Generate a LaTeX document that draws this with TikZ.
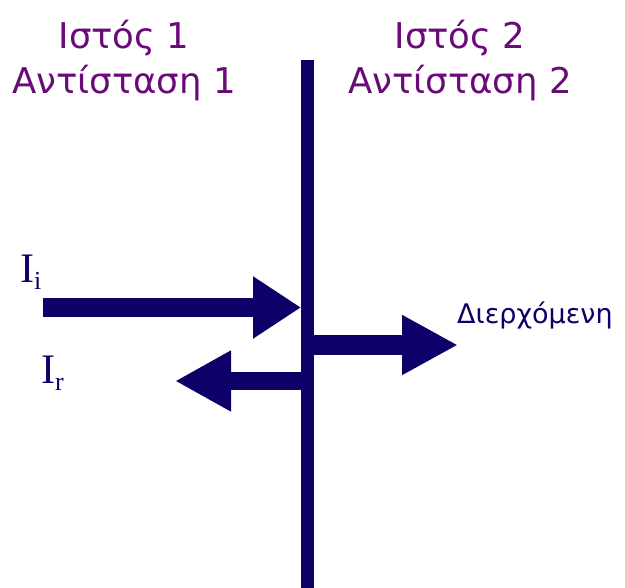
\documentclass[tikz,border=0pt]{standalone}
\usepackage{fontspec}
\setmainfont{DejaVu Sans}
\newfontfamily\serifI{Liberation Serif}
\usetikzlibrary{arrows.meta}
\definecolor{navy}{HTML}{0D0068}
\definecolor{plum}{HTML}{6A0A78}
\begin{document}
\begin{tikzpicture}[x=1pt,y=-1pt,
  title/.style={anchor=base,inner sep=0pt,text=plum,font=\fontsize{35.5}{36}\selectfont},
  beam/.style={draw=navy,line cap=butt}]
\useasboundingbox (0,0) rectangle (625,588);
\coordinate (top) at (307.5,60);
\coordinate (bot) at (307.5,588);
\coordinate (iS) at (43,307.5);
\coordinate (iE) at (301,307.5);
\coordinate (rS) at (301,381);
\coordinate (rE) at (175,381);
\coordinate (tS) at (313,345);
\coordinate (tE) at (458,345);
\draw[beam,line width=13pt] (top) -- (bot);
\draw[beam,line width=19pt,-{Triangle[length=48pt,width=59pt]}] (iS) -- (iE);
\draw[beam,line width=18pt,-{Triangle[length=56pt,width=57pt]}] (rS) -- (rE);
\draw[beam,line width=20pt,-{Triangle[length=56pt,width=56pt]}] (tS) -- (tE);
\node[title] (t1a) at (124,49) {Ιστός 1};
\node[title] (t1b) at (124,94) {Αντίσταση 1};
\node[title] (t2a) at (460,49) {Ιστός 2};
\node[title] (t2b) at (460,94) {Αντίσταση 2};
\node[anchor=base west,inner sep=0pt,text=navy] (Ii) at (20,283) {\serifI\fontsize{42}{42}\selectfont I\raisebox{-7pt}{\fontsize{26}{26}\selectfont i}};
\node[anchor=base west,inner sep=0pt,text=navy] (Ir) at (41,384) {\serifI\fontsize{42}{42}\selectfont I\raisebox{-7pt}{\fontsize{26}{26}\selectfont r}};
\node[anchor=base west,inner sep=0pt,text=navy,font=\fontsize{27}{27}\selectfont] (tr) at (457,324) {Διερχόμενη};
\end{tikzpicture}
\end{document}
